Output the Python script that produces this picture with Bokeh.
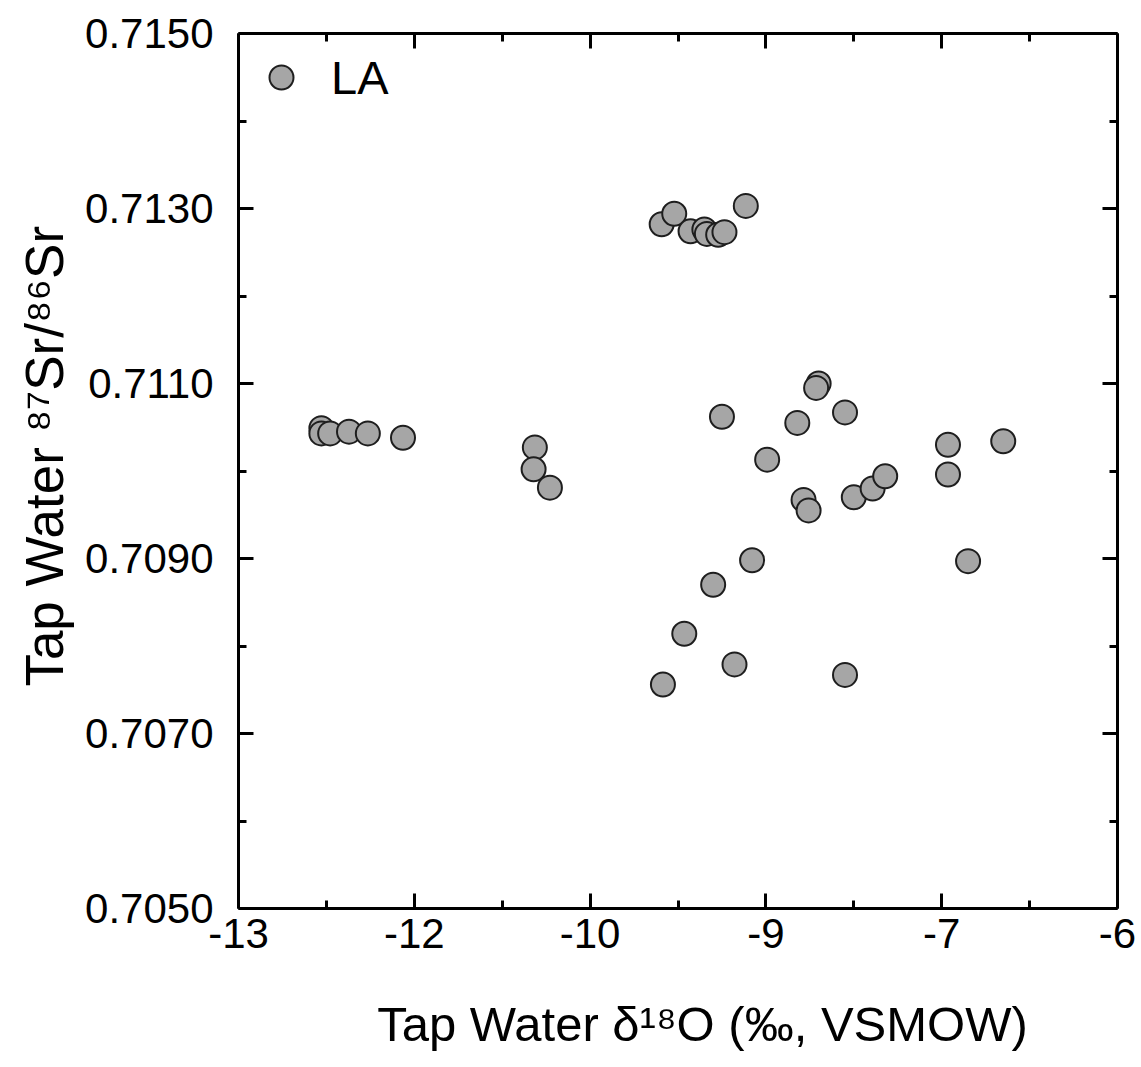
from bokeh.plotting import figure
from bokeh.models import (FixedTicker, LinearAxis, Range1d, Legend, LegendItem,
                          CustomJSTickFormatter, PrintfTickFormatter, ColumnDataSource)
from bokeh.embed import file_html
from bokeh.resources import INLINE

# ---------------- data ----------------
d18O = [-9.63, -9.53, -9.40, -9.29, -9.27, -9.18, -9.13, -8.96,
        -12.34, -12.34, -12.27, -12.12, -11.97, -11.69, -10.64, -10.65, -10.52,
        -9.15, -8.38, -8.40, -8.17, -8.55, -8.79, -7.35, -6.91, -7.35, -8.50,
        -8.46, -8.10, -7.95, -7.85,
        -8.91, -9.22, -9.45, -9.05, -9.62, -8.17, -7.19]
sr8786 = [0.71282, 0.71294, 0.71274, 0.71276, 0.71271, 0.71270, 0.71273, 0.71303,
          0.71049, 0.71043, 0.71043, 0.71045, 0.71043, 0.71038, 0.71027, 0.71002, 0.70981,
          0.71062, 0.71100, 0.71095, 0.71067, 0.71055, 0.71013, 0.71030, 0.71034, 0.70996, 0.70967,
          0.70955, 0.70970, 0.70980, 0.70994,
          0.70898, 0.70870, 0.70814, 0.70779, 0.70756, 0.70767, 0.70897]
series_name = "LA"

x_major = [-13.0, -11.6, -10.2, -8.8, -7.4, -6.0]
x_minor = [-12.3, -10.9, -9.5, -8.1, -6.7]
x_labels = ["-13", "-12", "-10", "-9", "-7", "-6"]
y_major = [0.705, 0.707, 0.709, 0.711, 0.713, 0.715]
y_minor = [0.706, 0.708, 0.710, 0.712, 0.714]
x_title = "Tap Water δ¹⁸O (‰, VSMOW)"
y_title = "Tap Water ⁸⁷Sr/⁸⁶Sr"

FONT = "Liberation Sans"

p = figure(width=1141, height=1067, x_range=Range1d(-13, -6), y_range=Range1d(0.705, 0.715),
           output_backend="svg", toolbar_location=None,
           min_border_left=238, min_border_right=24, min_border_top=33, min_border_bottom=159)
p.grid.visible = False
p.outline_line_color = None
p.background_fill_color = "white"
p.border_fill_color = "white"

src = ColumnDataSource(dict(x=d18O, y=sr8786))
r = p.scatter(x="x", y="y", source=src, size=24, fill_color="#a6a6a6",
              line_color="#1e1e1e", line_width=2)

def style(ax, ticks, minor):
    ax.ticker = FixedTicker(ticks=ticks, minor_ticks=minor)
    ax.axis_line_width = 3
    ax.axis_line_color = "black"
    ax.major_tick_line_width = 3
    ax.minor_tick_line_width = 3
    ax.major_tick_in = 15
    ax.major_tick_out = 0
    ax.minor_tick_in = 8
    ax.minor_tick_out = 0
    ax.major_label_text_font = FONT
    ax.major_label_text_font_size = "42px"
    ax.major_label_text_color = "black"
    ax.axis_label_text_font = FONT
    ax.axis_label_text_font_style = "normal"
    ax.axis_label_text_color = "black"

xa = p.xaxis[0]
style(xa, x_major, x_minor)
xa.major_label_overrides = {t: l for t, l in zip(x_major, x_labels)}
xa.major_label_standoff = 10
# leading em space nudges the centred title to the right, as in the original
xa.axis_label = "\u2003" + x_title
xa.axis_label_text_font_size = "49px"
xa.axis_label_standoff = 46

ya = p.yaxis[0]
style(ya, y_major, y_minor)
ya.formatter = PrintfTickFormatter(format="%.4f")
ya.major_label_standoff = 25
ya.axis_label = "\u2007" + y_title
ya.axis_label_text_font_size = "53px"
ya.axis_label_standoff = 8

blank = CustomJSTickFormatter(code="return ''")
top = LinearAxis(formatter=blank)
style(top, x_major, x_minor)
top.major_label_text_font_size = "0px"
right = LinearAxis(formatter=blank)
style(right, y_major, y_minor)
right.major_label_text_font_size = "0px"
p.add_layout(top, "above")
p.add_layout(right, "right")

legend = Legend(items=[LegendItem(label=series_name, renderers=[r])],
                location=(13, 801), glyph_width=60, glyph_height=60, label_height=60,
                label_standoff=20, label_text_font=FONT, label_text_font_size="47px",
                label_text_color="black",
                padding=0, margin=0, spacing=0, border_line_color=None,
                background_fill_alpha=0)
p.add_layout(legend)

open("out.html", "w").write(file_html(p, INLINE))
